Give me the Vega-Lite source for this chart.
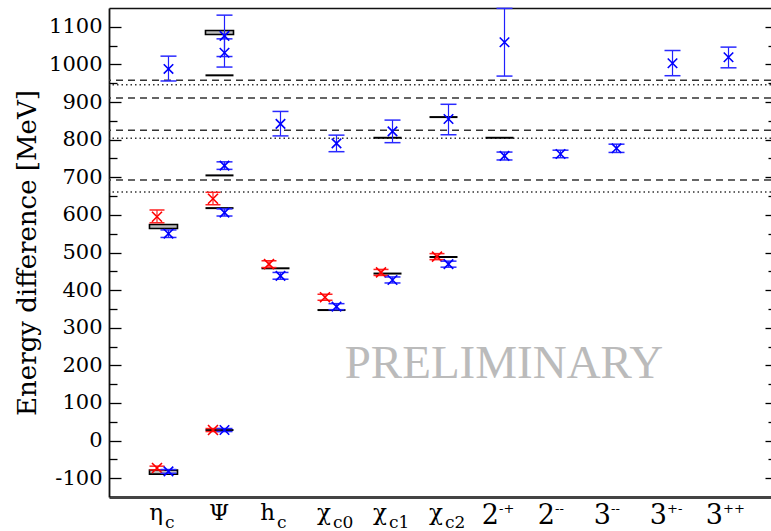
{
  "$schema": "https://vega.github.io/schema/vega-lite/v6.json",
  "width": 662,
  "height": 489,
  "autosize": {"type": "none"},
  "padding": {"left": 109, "top": 8, "right": 0, "bottom": 34},
  "background": "white",
  "config": {
    "view": {"stroke": null},
    "axis": {"labelColor": "black", "titleColor": "black", "grid": false, "tickColor": "black"}
  },
  "datasets": {
    "dashed": [{"v": 693}, {"v": 825}, {"v": 911}, {"v": 958}],
    "dotted": [{"v": 661}, {"v": 804}, {"v": 946}],
    "exp": [
      {"i": 1, "v": 28}, {"i": 1, "v": 618}, {"i": 1, "v": 705}, {"i": 1, "v": 971},
      {"i": 2, "v": 458}, {"i": 3, "v": 347}, {"i": 4, "v": 444}, {"i": 4, "v": 805},
      {"i": 5, "v": 488}, {"i": 5, "v": 860}, {"i": 6, "v": 805}
    ],
    "box": [{"i": 0, "v": -84}, {"i": 0, "v": 569}, {"i": 1, "v": 1085}],
    "red": [
      {"i": 0, "v": -73, "lo": -78, "hi": -68},
      {"i": 0, "v": 595, "lo": 579, "hi": 613},
      {"i": 1, "v": 28, "lo": 24, "hi": 32},
      {"i": 1, "v": 643, "lo": 627, "hi": 660},
      {"i": 2, "v": 469, "lo": 460, "hi": 478},
      {"i": 3, "v": 381, "lo": 373, "hi": 389},
      {"i": 4, "v": 447, "lo": 439, "hi": 455},
      {"i": 5, "v": 489, "lo": 481, "hi": 497}
    ],
    "blue": [
      {"i": 0, "v": -82, "lo": -87, "hi": -77},
      {"i": 0, "v": 550, "lo": 540, "hi": 560},
      {"i": 0, "v": 988, "lo": 956, "hi": 1022},
      {"i": 1, "v": 28, "lo": 24, "hi": 32},
      {"i": 1, "v": 606, "lo": 597, "hi": 616},
      {"i": 1, "v": 731, "lo": 721, "hi": 741},
      {"i": 1, "v": 1031, "lo": 993, "hi": 1068},
      {"i": 1, "v": 1076, "lo": 1021, "hi": 1131},
      {"i": 2, "v": 438, "lo": 429, "hi": 447},
      {"i": 2, "v": 842, "lo": 810, "hi": 875},
      {"i": 3, "v": 356, "lo": 348, "hi": 364},
      {"i": 3, "v": 790, "lo": 768, "hi": 812},
      {"i": 4, "v": 427, "lo": 419, "hi": 435},
      {"i": 4, "v": 822, "lo": 792, "hi": 852},
      {"i": 5, "v": 469, "lo": 461, "hi": 477},
      {"i": 5, "v": 855, "lo": 813, "hi": 894},
      {"i": 6, "v": 757, "lo": 746, "hi": 767},
      {"i": 6, "v": 1059, "lo": 969, "hi": 1149},
      {"i": 7, "v": 762, "lo": 752, "hi": 772},
      {"i": 8, "v": 777, "lo": 766, "hi": 788},
      {"i": 9, "v": 1003, "lo": 970, "hi": 1037},
      {"i": 10, "v": 1019, "lo": 991, "hi": 1046}
    ],
    "txt": [{"i": 6.08, "v": 166, "label": "PRELIMINARY"}]
  },
  "resolve": {"axis": {"x": "independent", "y": "independent"}},
  "layer": [
    {
      "data": {"name": "dashed"},
      "mark": {"type": "rule", "strokeDash": [7, 5], "color": "#333333", "strokeWidth": 1.5},
      "encoding": {
        "y": {"field": "v", "type": "quantitative", "scale": {"domain": [-150, 1150], "nice": false, "zero": false},
          "axis": {"orient": "left", "values": [-100, 0, 100, 200, 300, 400, 500, 600, 700, 800, 900, 1000, 1100],
            "labelExpr": "'' + datum.value", "tickSize": -12, "tickWidth": 1.3, "labelPadding": 19,
            "labelFont": "DejaVu Serif", "labelFontSize": 21, "labelColor": "black",
            "labelOverlap": false, "domain": true, "domainColor": "#111111", "domainWidth": 1.8,
            "title": "Energy difference [MeV]", "titleFont": "DejaVu Serif", "titleFontSize": 26, "titleFontWeight": "normal", "titleColor": "black", "titlePadding": 8}}
      }
    },
    {
      "data": {"name": "dotted"},
      "mark": {"type": "rule", "strokeDash": [1.5, 3], "color": "#333333", "strokeWidth": 1.5},
      "encoding": {
        "y": {"field": "v", "type": "quantitative", "scale": {"domain": [-150, 1150], "nice": false, "zero": false},
          "axis": {"orient": "left", "values": [-50, 50, 150, 250, 350, 450, 550, 650, 750, 850, 950, 1050],
            "tickSize": -8, "tickWidth": 1.3, "labels": false, "domain": false, "title": null}}
      }
    },
    {
      "data": {"name": "exp"},
      "mark": {"type": "tick", "orient": "horizontal", "size": 28, "thickness": 2, "color": "black", "opacity": 1},
      "encoding": {
        "x": {"field": "i", "type": "quantitative", "scale": {"domain": [-0.973, 10.848], "nice": false, "zero": false},
          "axis": {"orient": "bottom", "values": [0, 1, 2, 3, 4, 5], "labelExpr": "['η','Ψ','h','χ','χ','χ'][datum.value]",
            "ticks": false, "domain": true, "domainColor": "#444444", "domainWidth": 3,
            "labelFont": "DejaVu Serif", "labelFontSize": 23, "labelColor": "black",
            "labelBaseline": "alphabetic", "labelPadding": 22,
            "labelAlign": {"condition": {"test": "datum.value == 1", "value": "center"}, "value": "right"},
            "labelOffset": -1, "labelFlush": false, "labelOverlap": false, "title": null}},
        "y": {"field": "v", "type": "quantitative", "scale": {"domain": [-150, 1150], "nice": false, "zero": false},
          "axis": {"orient": "right", "offset": 6, "values": [-100, 0, 100, 200, 300, 400, 500, 600, 700, 800, 900, 1000, 1100],
            "tickSize": -12, "tickWidth": 1.3, "labels": false, "domain": false, "title": null}}
      }
    },
    {
      "data": {"name": "box"},
      "mark": {"type": "tick", "orient": "horizontal", "size": 28, "thickness": 4, "fill": "#bbbbbb", "stroke": "black", "strokeWidth": 1.6, "opacity": 1},
      "encoding": {
        "x": {"field": "i", "type": "quantitative", "scale": {"domain": [-0.973, 10.848], "nice": false, "zero": false},
          "axis": {"orient": "bottom", "values": [6, 7, 8, 9, 10], "labelExpr": "datum.value < 8 ? '2' : '3'",
            "ticks": false, "domain": false, "labelFont": "DejaVu Serif", "labelFontSize": 27, "labelColor": "black",
            "labelBaseline": "alphabetic", "labelPadding": 26,
            "labelAlign": "right", "labelOffset": -1, "labelFlush": false, "labelOverlap": false, "title": null}},
        "y": {"field": "v", "type": "quantitative", "scale": {"domain": [-150, 1150], "nice": false, "zero": false},
          "axis": {"orient": "right", "offset": 6, "values": [-50, 50, 150, 250, 350, 450, 550, 650, 750, 850, 950, 1050],
            "tickSize": -9, "tickWidth": 1.3, "labels": false, "domain": false, "title": null}}
      }
    },
    {
      "data": {"name": "red"},
      "mark": {"type": "rule", "color": "#ff2020", "strokeWidth": 1.2, "xOffset": -6.5},
      "encoding": {
        "x": {"field": "i", "type": "quantitative", "scale": {"domain": [-0.973, 10.848], "nice": false, "zero": false},
          "axis": {"orient": "bottom", "values": [0, 2, 3, 4, 5], "labelExpr": "['c','','c','c0','c1','c2'][datum.value]",
            "ticks": false, "domain": false, "labelFont": "DejaVu Serif", "labelFontSize": 17, "labelColor": "black",
            "labelBaseline": "alphabetic", "labelPadding": 30,
            "labelAlign": "left", "labelOffset": 1, "labelFlush": false, "labelOverlap": false, "title": null}},
        "y": {"field": "lo", "type": "quantitative", "scale": {"domain": [-150, 1150], "nice": false, "zero": false}, "axis": null},
        "y2": {"field": "hi"}
      }
    },
    {
      "data": {"name": "red"},
      "mark": {"type": "tick", "orient": "horizontal", "size": 15, "thickness": 1.5, "color": "#ff2020", "opacity": 1, "xOffset": -6.5},
      "encoding": {
        "x": {"field": "i", "type": "quantitative", "scale": {"domain": [-0.973, 10.848], "nice": false, "zero": false},
          "axis": {"orient": "bottom", "values": [6, 7, 8, 9, 10], "labelExpr": "['-+','--','--','+-','++'][datum.value - 6]",
            "ticks": false, "domain": false, "labelFont": "DejaVu Serif", "labelFontSize": 13, "labelColor": "black",
            "labelBaseline": "alphabetic", "labelPadding": 15,
            "labelAlign": "left", "labelOffset": -1, "labelFlush": false, "labelOverlap": false, "title": null}},
        "y": {"field": "lo", "type": "quantitative", "scale": {"domain": [-150, 1150], "nice": false, "zero": false}, "axis": null}
      }
    },
    {
      "data": {"name": "red"},
      "mark": {"type": "tick", "orient": "horizontal", "size": 15, "thickness": 1.5, "color": "#ff2020", "opacity": 1, "xOffset": -6.5},
      "encoding": {
        "x": {"field": "i", "type": "quantitative", "scale": {"domain": [-0.973, 10.848], "nice": false, "zero": false}, "axis": null},
        "y": {"field": "hi", "type": "quantitative", "scale": {"domain": [-150, 1150], "nice": false, "zero": false}, "axis": null}
      }
    },
    {
      "data": {"name": "red"},
      "mark": {"type": "point", "shape": "M-1,-1L1,1M1,-1L-1,1", "size": 100, "filled": false, "stroke": "#ff0000", "strokeWidth": 1.6, "opacity": 1, "xOffset": -6.5},
      "encoding": {
        "x": {"field": "i", "type": "quantitative", "scale": {"domain": [-0.973, 10.848], "nice": false, "zero": false}, "axis": null},
        "y": {"field": "v", "type": "quantitative", "scale": {"domain": [-150, 1150], "nice": false, "zero": false}, "axis": null}
      }
    },
    {
      "data": {"name": "blue"},
      "mark": {"type": "rule", "color": "#2020ff", "strokeWidth": 1.2, "xOffset": 5},
      "encoding": {
        "x": {"field": "i", "type": "quantitative", "scale": {"domain": [-0.973, 10.848], "nice": false, "zero": false}, "axis": null},
        "y": {"field": "lo", "type": "quantitative", "scale": {"domain": [-150, 1150], "nice": false, "zero": false}, "axis": null},
        "y2": {"field": "hi"}
      }
    },
    {
      "data": {"name": "blue"},
      "mark": {"type": "tick", "orient": "horizontal", "size": 16, "thickness": 1.5, "color": "#2a2aff", "opacity": 1, "xOffset": 5},
      "encoding": {
        "x": {"field": "i", "type": "quantitative", "scale": {"domain": [-0.973, 10.848], "nice": false, "zero": false}, "axis": null},
        "y": {"field": "lo", "type": "quantitative", "scale": {"domain": [-150, 1150], "nice": false, "zero": false}, "axis": null}
      }
    },
    {
      "data": {"name": "blue"},
      "mark": {"type": "tick", "orient": "horizontal", "size": 16, "thickness": 1.5, "color": "#2a2aff", "opacity": 1, "xOffset": 5},
      "encoding": {
        "x": {"field": "i", "type": "quantitative", "scale": {"domain": [-0.973, 10.848], "nice": false, "zero": false}, "axis": null},
        "y": {"field": "hi", "type": "quantitative", "scale": {"domain": [-150, 1150], "nice": false, "zero": false}, "axis": null}
      }
    },
    {
      "data": {"name": "blue"},
      "mark": {"type": "point", "shape": "M-1,-1L1,1M1,-1L-1,1", "size": 90, "filled": false, "stroke": "#0000ff", "strokeWidth": 1.6, "opacity": 1, "xOffset": 5},
      "encoding": {
        "x": {"field": "i", "type": "quantitative", "scale": {"domain": [-0.973, 10.848], "nice": false, "zero": false}, "axis": null},
        "y": {"field": "v", "type": "quantitative", "scale": {"domain": [-150, 1150], "nice": false, "zero": false}, "axis": null}
      }
    },
    {
      "data": {"name": "txt"},
      "mark": {"type": "text", "font": "Liberation Serif", "fontSize": 47, "color": "#bbbbbb", "baseline": "alphabetic", "align": "center"},
      "encoding": {
        "x": {"field": "i", "type": "quantitative", "scale": {"domain": [-0.973, 10.848], "nice": false, "zero": false},
          "axis": {"orient": "top", "labels": false, "ticks": false, "domain": true, "domainColor": "#111111", "domainWidth": 1.5, "title": null}},
        "y": {"field": "v", "type": "quantitative", "scale": {"domain": [-150, 1150], "nice": false, "zero": false}, "axis": null},
        "text": {"field": "label"}
      }
    }
  ]
}
